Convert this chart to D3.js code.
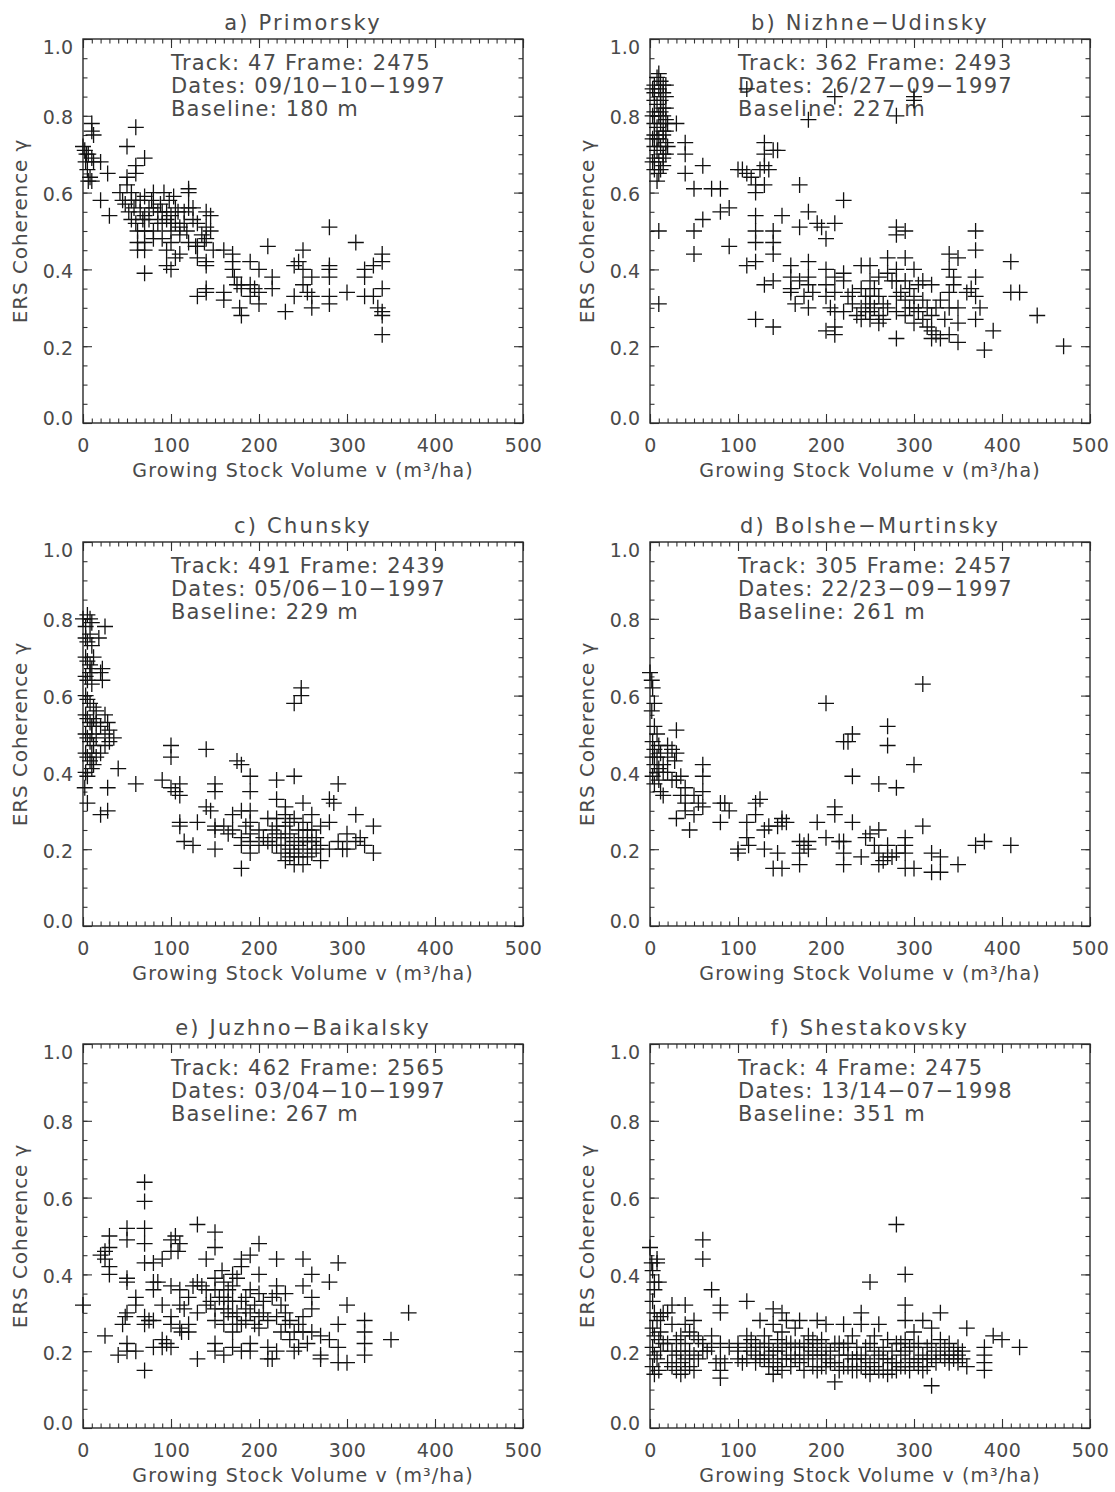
<!DOCTYPE html>
<html>
<head>
<meta charset="utf-8">
<script src="https://cdn.jsdelivr.net/npm/d3@7"></script>
<style>
  body { margin: 0; background: #fff; }
  svg text { font-family: "DejaVu Sans", sans-serif; fill: #4a4a4a; }
</style>
</head>
<body>
<svg id="chart" width="1115" height="1492"></svg>
<script>
// axis ticks
var xTicks = [0, 100, 200, 300, 400, 500];
var yTicks = [0, 0.2, 0.4, 0.6, 0.8, 1.0];
var xMinor = d3.range(0, 501, 10);
var yMinor = d3.range(0, 21).map(function(i) { return i / 20; });

var titles = ["a) Primorsky", "b) Nizhne\u2212Udinsky", "c) Chunsky",
              "d) Bolshe\u2212Murtinsky", "e) Juzhno\u2212Baikalsky", "f) Shestakovsky"];
var tracks = ["Track: 47 Frame: 2475", "Track: 362 Frame: 2493", "Track: 491 Frame: 2439",
              "Track: 305 Frame: 2457", "Track: 462 Frame: 2565", "Track: 4 Frame: 2475"];
var dates = ["Dates: 09/10\u221210\u22121997", "Dates: 26/27\u221209\u22121997", "Dates: 05/06\u221210\u22121997",
             "Dates: 22/23\u221209\u22121997", "Dates: 03/04\u221210\u22121997", "Dates: 13/14\u221207\u22121998"];
var baselines = ["Baseline: 180 m", "Baseline: 227 m", "Baseline: 229 m",
                 "Baseline: 261 m", "Baseline: 267 m", "Baseline: 351 m"];

// [growing stock volume, coherence]
var primorsky = [
  [0,0.72],[2,0.71],[4,0.70],[6,0.70],[3,0.68],[5,0.66],[8,0.64],[6,0.63],[10,0.78],[10,0.76],[12,0.75],[10,0.69],[12,0.68],[10,0.63],
  [20,0.68],[20,0.58],[28,0.65],[30,0.54],
  [42,0.60],[45,0.58],[48,0.57],[50,0.62],[50,0.64],[50,0.72],[52,0.55],[55,0.58],[55,0.60],[55,0.53],[58,0.56],[60,0.65],[60,0.67],[60,0.77],[60,0.58],[60,0.52],[62,0.50],[62,0.47],[62,0.45],
  [65,0.55],[65,0.58],[68,0.53],[70,0.69],[70,0.59],[70,0.54],[70,0.50],[70,0.47],[70,0.45],[70,0.39],[75,0.53],[75,0.56],[78,0.58],[80,0.60],[80,0.56],[80,0.50],[80,0.48],
  [85,0.55],[85,0.52],[88,0.57],[90,0.52],[90,0.55],[90,0.48],[92,0.60],[95,0.55],[95,0.53],[95,0.45],[95,0.41],[98,0.58],[100,0.54],[100,0.52],[100,0.50],[100,0.47],[100,0.40],
  [103,0.59],[105,0.56],[105,0.52],[105,0.43],[108,0.55],[110,0.51],[110,0.49],[110,0.44],[115,0.55],[115,0.52],[118,0.50],[120,0.61],[120,0.60],[120,0.56],[120,0.47],
  [125,0.53],[125,0.56],[128,0.46],[130,0.52],[130,0.46],[130,0.43],[130,0.33],[135,0.49],[138,0.47],[140,0.55],[140,0.51],[140,0.48],[140,0.42],[140,0.41],[140,0.35],[140,0.34],[145,0.54],[145,0.50],[148,0.45],
  [160,0.45],[160,0.34],[160,0.32],[170,0.44],[170,0.42],[170,0.40],[172,0.38],[175,0.36],[178,0.30],[180,0.36],[180,0.35],[180,0.28],[190,0.42],[190,0.36],[190,0.33],[195,0.35],[200,0.40],[200,0.34],[200,0.31],
  [210,0.46],[215,0.38],[215,0.35],[230,0.29],[240,0.41],[240,0.33],[245,0.42],[250,0.45],[250,0.40],[250,0.36],[255,0.34],[260,0.38],[260,0.33],[260,0.30],
  [280,0.51],[280,0.41],[280,0.40],[280,0.38],[280,0.33],[280,0.31],[300,0.34],[310,0.47],[320,0.40],[320,0.38],[320,0.33],[330,0.41],[330,0.33],[335,0.30],[340,0.44],[340,0.42],[340,0.35],[340,0.29],[340,0.28],[340,0.23]
];

var nizhneUdinsky = [
  [5,0.88],[8,0.90],[10,0.91],[12,0.89],[15,0.88],[5,0.86],[10,0.87],[15,0.86],[5,0.84],[8,0.83],[12,0.84],[15,0.82],[5,0.81],[10,0.80],[15,0.80],
  [5,0.78],[8,0.77],[12,0.78],[15,0.76],[5,0.75],[10,0.74],[15,0.75],[5,0.72],[8,0.71],[12,0.72],[15,0.70],[5,0.69],[10,0.68],[15,0.69],
  [5,0.66],[10,0.65],[8,0.63],[15,0.67],[12,0.85],[3,0.80],[10,0.50],[10,0.31],
  [18,0.88],[18,0.85],[18,0.82],[18,0.79],[18,0.76],[18,0.73],[18,0.70],[3,0.87],[3,0.74],[3,0.68],[8,0.74],[12,0.81],[12,0.66],[20,0.78],[20,0.72],
  [30,0.78],[40,0.73],[40,0.70],[40,0.65],[50,0.61],[50,0.50],[50,0.44],[60,0.67],[60,0.53],[70,0.61],[80,0.61],[80,0.55],[90,0.56],[90,0.46],
  [100,0.66],[105,0.66],[110,0.65],[110,0.41],[110,0.87],[115,0.64],[120,0.62],[120,0.60],[120,0.54],[120,0.50],[120,0.47],[120,0.42],[120,0.27],
  [125,0.66],[130,0.73],[130,0.70],[130,0.67],[130,0.62],[130,0.36],[135,0.66],[140,0.71],[140,0.50],[140,0.47],[140,0.44],[140,0.37],[140,0.25],[145,0.71],[150,0.54],
  [160,0.41],[160,0.38],[160,0.35],[160,0.34],[165,0.31],[170,0.62],[170,0.51],[170,0.37],[175,0.33],[180,0.79],[180,0.55],[180,0.42],[180,0.38],[180,0.36],[180,0.30],
  [185,0.34],[190,0.52],[195,0.51],[200,0.48],[200,0.40],[200,0.36],[200,0.33],[200,0.24],[205,0.30],[210,0.85],[210,0.52],[210,0.38],[210,0.34],[210,0.29],[210,0.25],[210,0.23],
  [220,0.58],[220,0.39],[220,0.37],[220,0.29],[225,0.33],[230,0.34],[230,0.31],[235,0.28],[240,0.41],[240,0.35],[240,0.30],[240,0.27],[245,0.33],[245,0.29],[250,0.41],[250,0.37],[250,0.33],[250,0.31],[250,0.29],[250,0.27],
  [255,0.35],[255,0.30],[260,0.38],[260,0.33],[260,0.28],[260,0.26],[265,0.31],[265,0.27],[270,0.43],[270,0.39],[270,0.30],[275,0.37],
  [280,0.51],[280,0.49],[280,0.40],[280,0.37],[280,0.33],[280,0.29],[280,0.22],[280,0.80],[285,0.34],[290,0.50],[290,0.43],[290,0.37],[290,0.32],[290,0.28],[295,0.35],[295,0.30],
  [300,0.85],[300,0.84],[300,0.40],[300,0.33],[300,0.30],[300,0.26],[305,0.36],[305,0.29],[310,0.37],[310,0.32],[310,0.27],[315,0.30],[315,0.25],[320,0.36],[320,0.28],[320,0.24],[320,0.22],[325,0.23],[325,0.30],[330,0.22],[330,0.32],[335,0.27],
  [340,0.44],[340,0.40],[340,0.34],[340,0.30],[340,0.23],[345,0.38],[345,0.36],[350,0.43],[350,0.30],[350,0.26],[350,0.21],[360,0.34],[365,0.35],
  [370,0.50],[370,0.45],[370,0.38],[370,0.33],[370,0.27],[375,0.30],[380,0.19],[390,0.24],[410,0.42],[410,0.34],[420,0.34],[440,0.28],[470,0.20]
];

var chunsky = [
  [0,0.80],[3,0.78],[5,0.81],[8,0.80],[10,0.79],[3,0.75],[5,0.74],[8,0.76],[10,0.73],[3,0.70],[5,0.69],[8,0.68],[10,0.67],[12,0.70],
  [3,0.65],[5,0.64],[8,0.66],[10,0.63],[3,0.60],[5,0.59],[8,0.58],[12,0.57],[15,0.56],[3,0.55],[5,0.54],[8,0.53],[10,0.52],[12,0.54],[15,0.53],
  [3,0.50],[5,0.49],[8,0.48],[10,0.50],[12,0.47],[15,0.49],[3,0.45],[5,0.44],[8,0.43],[10,0.45],[12,0.42],[3,0.40],[5,0.39],[2,0.36],[5,0.32],[10,0.41],[15,0.44],
  [18,0.75],[20,0.66],[22,0.64],[22,0.67],[25,0.78],[25,0.55],[25,0.50],[25,0.47],[20,0.52],[20,0.45],[28,0.53],[30,0.51],[30,0.48],[20,0.29],[28,0.36],[28,0.30],[35,0.49],[40,0.41],[60,0.37],
  [90,0.38],[100,0.47],[100,0.44],[100,0.36],[105,0.35],[110,0.37],[110,0.34],[110,0.27],[110,0.26],[115,0.22],[125,0.21],[130,0.27],[140,0.46],[140,0.31],[145,0.30],
  [150,0.37],[150,0.35],[150,0.26],[150,0.25],[150,0.20],
  [160,0.26],[165,0.24],[170,0.29],[170,0.25],[175,0.43],[180,0.42],[180,0.30],[180,0.23],[180,0.21],[180,0.15],[185,0.26],
  [190,0.39],[190,0.35],[190,0.30],[190,0.27],[190,0.24],[190,0.22],[190,0.19],[200,0.25],[200,0.21],[205,0.23],
  [210,0.28],[210,0.22],[215,0.25],[215,0.21],[220,0.38],[220,0.33],[220,0.28],[220,0.26],[220,0.24],[220,0.21],[225,0.19],[225,0.23],
  [230,0.31],[230,0.29],[230,0.26],[230,0.23],[230,0.21],[230,0.17],[235,0.27],[235,0.24],[235,0.20],[235,0.18],[240,0.58],[240,0.39],[240,0.28],[240,0.22],[240,0.19],[240,0.16],[245,0.25],[245,0.21],[245,0.18],
  [248,0.62],[248,0.60],[250,0.32],[250,0.27],[250,0.23],[250,0.20],[250,0.16],[255,0.25],[255,0.22],[255,0.18],
  [260,0.29],[260,0.25],[260,0.22],[260,0.19],[265,0.23],[265,0.20],[270,0.26],[270,0.21],[270,0.17],[280,0.33],[280,0.27],[280,0.20],[285,0.32],[290,0.37],[290,0.22],[295,0.20],
  [300,0.24],[300,0.20],[310,0.29],[310,0.22],[315,0.23],[320,0.21],[330,0.26],[330,0.19]
];

var bolsheMurtinsky = [
  [0,0.66],[2,0.64],[3,0.62],[5,0.58],[2,0.56],[5,0.52],[8,0.50],[3,0.48],[5,0.46],[8,0.44],[10,0.47],[3,0.44],[5,0.42],[8,0.40],[10,0.41],[3,0.39],[5,0.37],
  [12,0.45],[10,0.38],[12,0.35],[15,0.42],[15,0.34],[15,0.40],
  [20,0.47],[20,0.44],[20,0.40],[25,0.38],[25,0.46],[28,0.43],[30,0.51],[30,0.45],[30,0.38],[30,0.28],[35,0.39],[35,0.34],[40,0.36],[40,0.32],[40,0.30],[45,0.25],
  [50,0.34],[50,0.29],[55,0.32],[60,0.42],[60,0.39],[60,0.35],[60,0.31],
  [80,0.32],[80,0.27],[85,0.32],[90,0.30],[100,0.20],[100,0.19],[110,0.27],[110,0.23],[112,0.21],[120,0.32],[120,0.29],[125,0.33],[130,0.25],[130,0.20],[135,0.26],
  [140,0.15],[145,0.26],[145,0.19],[150,0.28],[150,0.27],[150,0.15],[155,0.27],[170,0.22],[170,0.19],[170,0.16],[175,0.21],[180,0.22],[180,0.20],[190,0.27],
  [200,0.58],[200,0.23],[210,0.31],[210,0.29],
  [215,0.22],[220,0.48],[220,0.22],[220,0.19],[220,0.16],[225,0.48],[230,0.50],[230,0.39],[230,0.27],[240,0.18],[245,0.23],[250,0.24],[255,0.21],
  [260,0.37],[260,0.25],[260,0.19],[260,0.16],[265,0.17],[270,0.52],[270,0.47],[270,0.21],[270,0.18],[275,0.18],[280,0.36],[280,0.19],
  [290,0.23],[290,0.21],[290,0.19],[290,0.15],[300,0.42],[300,0.15],[310,0.63],[310,0.26],[320,0.19],[320,0.14],[330,0.18],[330,0.14],[350,0.16],[370,0.21],[380,0.22],[410,0.21]
];

var juzhnoBaikalsky = [
  [0,0.32],[20,0.45],[25,0.46],[25,0.44],[25,0.24],[30,0.50],[30,0.47],[30,0.42],[30,0.40],[40,0.19],[45,0.27],[48,0.29],
  [50,0.52],[50,0.49],[50,0.39],[50,0.38],[50,0.30],[50,0.22],[50,0.20],[60,0.34],[60,0.32],[60,0.20],
  [70,0.64],[70,0.59],[70,0.52],[70,0.48],[70,0.43],[70,0.29],[70,0.27],[70,0.15],[75,0.28],[80,0.43],[80,0.38],[80,0.36],[80,0.28],[80,0.21],[85,0.38],
  [90,0.44],[90,0.32],[90,0.23],[90,0.21],[95,0.22],[100,0.49],[100,0.46],[100,0.37],[100,0.29],[100,0.27],[100,0.21],[105,0.50],[108,0.46],
  [110,0.48],[110,0.36],[110,0.32],[110,0.26],[112,0.25],[115,0.31],[120,0.34],[120,0.27],[120,0.25],[125,0.37],[130,0.53],[130,0.38],[130,0.30],[130,0.18],[135,0.37],
  [140,0.44],[140,0.36],[140,0.32],[145,0.33],[150,0.51],[150,0.47],[150,0.39],[150,0.36],[150,0.31],[150,0.28],[150,0.22],[150,0.20],[155,0.34],[158,0.41],
  [160,0.38],[160,0.34],[160,0.31],[160,0.27],[160,0.19],[165,0.36],[165,0.33],[165,0.30],[170,0.40],[170,0.37],[170,0.33],[170,0.29],[170,0.25],[170,0.21],[175,0.39],[175,0.30],[175,0.27],
  [180,0.44],[180,0.42],[180,0.33],[180,0.27],[180,0.20],[185,0.34],[185,0.31],[185,0.28],[190,0.45],[190,0.36],[190,0.30],[190,0.22],[190,0.20],[195,0.32],[195,0.27],
  [200,0.48],[200,0.40],[200,0.35],[200,0.29],[200,0.26],[205,0.33],[205,0.30],[210,0.28],[210,0.21],[210,0.18],[215,0.34],[215,0.18],
  [220,0.44],[220,0.37],[220,0.35],[220,0.29],[220,0.20],[225,0.32],[225,0.25],[230,0.35],[230,0.30],[230,0.27],[235,0.28],[235,0.23],[240,0.25],[240,0.20],[245,0.27],[245,0.21],
  [250,0.44],[250,0.37],[250,0.29],[250,0.25],[255,0.22],[260,0.40],[260,0.34],[260,0.31],[260,0.25],[270,0.24],[270,0.19],[270,0.18],[280,0.38],[280,0.23],
  [290,0.43],[290,0.27],[290,0.21],[290,0.17],[300,0.32],[300,0.17],[320,0.28],[320,0.25],[320,0.22],[320,0.19],[350,0.23],[370,0.30]
];

var shestakovsky = [
  [0,0.47],[2,0.43],[3,0.41],[5,0.38],[5,0.36],[8,0.44],[8,0.43],[10,0.38],[3,0.33],[5,0.30],[8,0.28],[3,0.26],[5,0.24],[10,0.23],[3,0.21],[5,0.19],[8,0.18],[3,0.16],[10,0.15],[5,0.14],
  [12,0.29],[15,0.30],[12,0.25],[15,0.22],[12,0.20],
  [20,0.30],[20,0.22],[25,0.32],[25,0.27],[25,0.20],[20,0.17],[25,0.16],[30,0.23],[30,0.19],[30,0.15],[35,0.24],[35,0.20],[35,0.17],[35,0.14],[40,0.32],[40,0.27],[40,0.22],[40,0.18],[40,0.15],
  [45,0.25],[45,0.20],[45,0.16],[50,0.28],[50,0.24],[50,0.19],[50,0.15],[55,0.23],[55,0.18],[60,0.49],[60,0.44],[60,0.22],[60,0.20],[65,0.20],
  [70,0.36],[70,0.24],[70,0.21],[75,0.17],[80,0.32],[80,0.30],[80,0.22],[80,0.18],[80,0.15],[80,0.13],[85,0.17],[90,0.21],[100,0.22],[100,0.20],[100,0.18],[105,0.17],
  [110,0.33],[110,0.24],[110,0.21],[110,0.18],[115,0.23],[115,0.20],[120,0.22],[120,0.19],[120,0.17],[125,0.28],[125,0.21],[125,0.18],[130,0.24],[130,0.21],[130,0.18],[135,0.22],[135,0.19],[135,0.16],
  [140,0.31],[140,0.27],[140,0.20],[140,0.17],[140,0.14],[145,0.23],[145,0.20],[145,0.16],[150,0.30],[150,0.25],[150,0.21],[150,0.18],[150,0.15],[155,0.28],[155,0.22],[155,0.18],
  [160,0.22],[160,0.19],[160,0.16],[165,0.26],[165,0.21],[165,0.18],[170,0.28],[170,0.21],[170,0.17],[175,0.22],[175,0.19],[175,0.15],[180,0.24],[180,0.21],[180,0.18],[185,0.23],[185,0.20],[185,0.16],
  [190,0.28],[190,0.22],[190,0.19],[190,0.15],[195,0.23],[195,0.19],[195,0.16],[200,0.27],[200,0.21],[200,0.18],[200,0.16],
  [205,0.20],[205,0.17],[210,0.22],[210,0.17],[210,0.12],[215,0.22],[215,0.19],[215,0.15],[220,0.27],[220,0.21],[220,0.16],[225,0.22],[225,0.19],[225,0.16],[230,0.24],[230,0.18],[230,0.15],[235,0.21],[235,0.18],[235,0.15],
  [240,0.30],[240,0.27],[240,0.19],[240,0.16],[245,0.21],[245,0.18],[245,0.15],[250,0.38],[250,0.22],[250,0.17],[250,0.14],[255,0.24],[255,0.20],[255,0.16],[260,0.27],[260,0.19],[260,0.15],[265,0.21],[265,0.18],[265,0.15],
  [270,0.23],[270,0.18],[270,0.14],[275,0.20],[275,0.17],[275,0.15],[280,0.53],[280,0.22],[280,0.17],[280,0.15],[285,0.22],[285,0.19],[285,0.16],
  [290,0.40],[290,0.32],[290,0.28],[290,0.23],[290,0.20],[290,0.16],[295,0.21],[295,0.18],[295,0.15],[300,0.25],[300,0.21],[300,0.17],
  [305,0.22],[305,0.18],[305,0.16],[310,0.28],[310,0.19],[310,0.15],[315,0.21],[315,0.18],[315,0.16],[320,0.26],[320,0.22],[320,0.18],[320,0.11],[325,0.20],[325,0.17],[330,0.30],[330,0.23],[330,0.19],
  [335,0.21],[335,0.18],[340,0.22],[340,0.19],[340,0.17],[345,0.20],[345,0.18],[350,0.21],[350,0.19],[350,0.17],[355,0.20],[355,0.18],[360,0.26],[360,0.16],
  [380,0.21],[380,0.19],[380,0.17],[380,0.15],[390,0.24],[400,0.23],[420,0.21]
];

var series = [primorsky, nizhneUdinsky, chunsky, bolsheMurtinsky, juzhnoBaikalsky, shestakovsky];

// layout
var W = 440, H = 384;
var lefts = [83, 650];
var tops = [39, 542, 1044];

var svg = d3.select("#chart");
var x = d3.scaleLinear().domain([0, 500]).range([0, W]);
var y = d3.scaleLinear().domain([0, 1]).range([H, 0]);

function tidy(sel) {
  sel.select(".domain").remove();
  sel.selectAll("line").attr("stroke", "#333").attr("stroke-width", 1.1);
}

series.forEach(function(pts, i) {
  var g = svg.append("g")
    .attr("transform", "translate(" + lefts[i % 2] + "," + tops[Math.floor(i / 2)] + ")");

  // minor ticks on all four sides
  g.append("g").attr("transform", "translate(0," + H + ")")
    .call(d3.axisBottom(x).tickValues(xMinor).tickSize(-4.5).tickFormat(""))
    .call(tidy);
  g.append("g")
    .call(d3.axisTop(x).tickValues(xMinor).tickSize(-4.5).tickFormat(""))
    .call(tidy);
  g.append("g")
    .call(d3.axisLeft(y).tickValues(yMinor).tickSize(-4.5).tickFormat(""))
    .call(tidy);
  g.append("g").attr("transform", "translate(" + W + ",0)")
    .call(d3.axisRight(y).tickValues(yMinor).tickSize(-4.5).tickFormat(""))
    .call(tidy);

  // major ticks
  var xb = g.append("g").attr("transform", "translate(0," + H + ")")
    .call(d3.axisBottom(x).tickValues(xTicks).tickSize(-9).tickPadding(16).tickFormat(d3.format("d")))
    .call(tidy);
  xb.selectAll("text").attr("font-size", 19).attr("dy", "0.71em").attr("letter-spacing", 0.5);
  g.append("g")
    .call(d3.axisTop(x).tickValues(xTicks).tickSize(-9).tickFormat(""))
    .call(tidy);
  var yl = g.append("g")
    .call(d3.axisLeft(y).tickValues(yTicks).tickSize(-9).tickPadding(10).tickFormat(d3.format(".1f")))
    .call(tidy);
  yl.selectAll("text").attr("font-size", 19)
    .attr("dy", function(d) { return d === 1 ? 14 : (d === 0 ? 1 : 8); });
  g.append("g").attr("transform", "translate(" + W + ",0)")
    .call(d3.axisRight(y).tickValues(yTicks).tickSize(-9).tickFormat(""))
    .call(tidy);
  g.selectAll(".tick text").attr("fill", "#4a4a4a");

  // frame
  g.append("rect").attr("width", W).attr("height", H)
    .attr("fill", "none").attr("stroke", "#2a2a2a").attr("stroke-width", 1.4);

  // title and labels
  g.append("text").attr("x", W / 2).attr("y", -9)
    .attr("text-anchor", "middle").attr("font-size", 21).attr("letter-spacing", 2.2)
    .text(titles[i]);
  g.append("text").attr("x", W / 2).attr("y", H + 54)
    .attr("text-anchor", "middle").attr("font-size", 19).attr("letter-spacing", 1.1)
    .text("Growing Stock Volume v (m\u00b3/ha)");
  g.append("text")
    .attr("transform", "translate(-56," + (H / 2) + ") rotate(-90)")
    .attr("text-anchor", "middle").attr("font-size", 20).attr("letter-spacing", 0.9)
    .text("ERS Coherence \u03b3");

  var info = [tracks[i], dates[i], baselines[i]];
  var infoY = [0.92, 0.86, 0.80];
  g.selectAll(".info").data(info).enter().append("text")
    .attr("class", "info")
    .attr("x", x(100)).attr("y", function(d, k) { return y(infoY[k]); })
    .attr("font-size", 21).attr("letter-spacing", 1.2)
    .text(function(d) { return d; });

  // plus markers
  g.selectAll(".pt").data(pts).enter().append("path")
    .attr("class", "pt")
    .attr("transform", function(d) { return "translate(" + x(d[0]) + "," + y(d[1]) + ")"; })
    .attr("d", "M-8,0H8M0,-8V8")
    .attr("stroke", "#111").attr("stroke-width", 1.3).attr("fill", "none");
});
</script>
</body>
</html>
